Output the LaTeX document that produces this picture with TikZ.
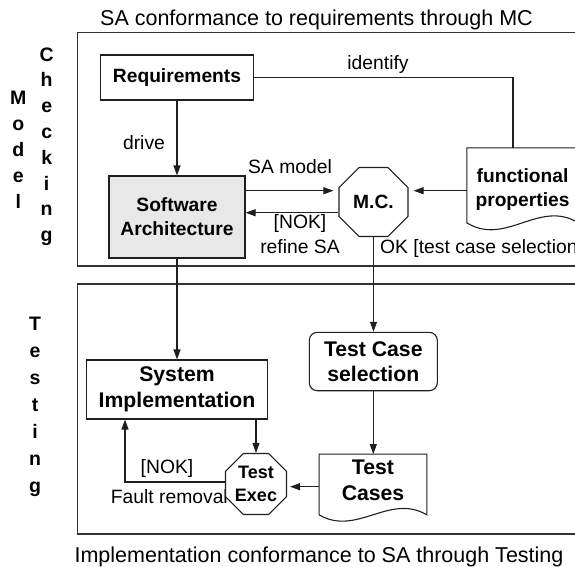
\documentclass[tikz,border=0pt]{standalone}
\usepackage{fontspec}
\setmainfont{Liberation Sans}
\usetikzlibrary{arrows.meta,shapes.geometric,calc}
\begin{document}
\begin{tikzpicture}[x=1pt,y=-1pt,
  ln/.style={draw=black!88,line width=1.1pt},
  arr/.style={ln,-{Triangle[length=10pt,width=7pt]}},
  outerbox/.style={draw=black!80,line width=1.3pt},
  box/.style={ln,inner sep=0pt,align=center},
  oct/.style={ln,regular polygon,regular polygon sides=8,inner sep=0pt,fill=white,align=center},
  lbl/.style={inner sep=0pt,font=\fontsize{19.3}{23}\selectfont},
  bfa/.style={font=\fontsize{19.2}{24}\selectfont\bfseries},
  bfb/.style={font=\fontsize{21.2}{25.5}\selectfont\bfseries},
  side/.style={inner sep=0pt,anchor=base,font=\fontsize{19.5}{20}\selectfont\bfseries},
  captext/.style={inner sep=0pt,anchor=base,font=\fontsize{21.5}{26}\selectfont}
]
\useasboundingbox (0,0) rectangle (575,566);

% outer frames
\draw[outerbox] (77.7,32.7) rectangle (590,266);
\draw[outerbox] (77.7,284) rectangle (590,534);

% captions
\node[captext] (title) at (316.5,25) {SA conformance to requirements through MC};
\node[captext] (caption) at (319,562) {Implementation conformance to SA through Testing};

% side letters
\foreach \c [count=\i from 0] in {M,o,d,e,l}
  \node[side] (mdl\i) at (18.3,{104+26*\i}) {\c};
\foreach \c [count=\i from 0] in {C,h,e,c,k,i,n,g}
  \node[side] (chk\i) at (46.7,{61+25.8*\i}) {\c};
\foreach \c [count=\i from 0] in {T,e,s,t,i,n,g}
  \node[side] (tst\i) at (35,{330+27*\i}) {\c};

% nodes (model checking)
\node[box,bfa,minimum width=152.6pt,minimum height=45pt] (req) at (177,77.5) {Requirements};
\node[box,bfa,fill=gray!18,minimum width=136pt,minimum height=82pt] (sa) at (177,217) {Software\\Architecture};
\node[oct,bfa,minimum size=74.7pt] (mc) at (373.5,202) {M.C.};
\node[inner sep=0pt,align=center,bfa,minimum width=111pt,minimum height=84pt] (fp) at (522.5,190) {functional\\properties};
\draw[ln] (fp.north west) -- (fp.north east) -- ++(0,75)
  .. controls +(-38.9,-24) and +(38.9,24) .. ($(fp.north west)+(0,75)$) -- cycle;

% nodes (testing)
\node[box,bfb,minimum width=180.6pt,minimum height=59pt] (si) at (177,389.5) {System\\Implementation};
\node[box,bfb,rounded corners=8pt,minimum width=128pt,minimum height=58.4pt] (tcs) at (373.3,361.5) {Test Case\\selection};
\node[inner sep=0pt,align=center,bfb,minimum width=107.4pt,minimum height=52.4pt] (tc) at (373,480.5) {Test\\Cases};
\draw[ln] (tc.north west) -- (tc.north east) -- ++(0,60.7)
  .. controls +(-37.6,-22) and +(37.6,22) .. ($(tc.north west)+(0,60.7)$) -- cycle;

% labels
\node[lbl] (lidentify) at (378,65) {identify};
\node[lbl] (ldrive) at (144,143) {drive};
\node[lbl] (lsamodel) at (290,167) {SA model};
\node[lbl] (lnok1) at (300,223.3) {[NOK]};
\node[lbl] (lrefine) at (300,246.7) {refine SA};
\node[lbl,anchor=west] (lok) at (380,248.3) {OK [test case selection]};
\node[lbl] (lnok2) at (167,468) {[NOK]};
\node[lbl,anchor=west] (lfault) at (110.7,497) {Fault removal};

\node[oct,font=\fontsize{18}{23}\selectfont\bfseries,minimum size=66pt] (te) at (256,484) {Test\\Exec};

% connectors
\draw[ln] (req.east) -| ([xshift=-9.5pt]fp.north);
\draw[arr] (req.south) -- (sa.north);
\coordinate (mcA) at ([yshift=11.3pt]mc.west);
\coordinate (mcB) at ([yshift=-10.7pt]mc.west);
\draw[arr] (sa.east |- mcA) -- ([xshift=-5pt]mcA);
\draw[arr] (mcB) -- (sa.east |- mcB);
\draw[arr] (fp.west |- mcA) -- ([xshift=5pt]mc.east |- mcA);
\draw[arr] (sa.south) -- (si.north);
\draw[arr] (mc.south) -- (mc.south |- tcs.north);
\draw[arr] (tcs.south) -- (tcs.south |- tc.north);
\draw[arr] (si.south -| te.north) -- (te.north);
\draw[arr] ([yshift=2pt]te.west) -| ([xshift=-52pt]si.south);
\coordinate (tcA) at ([yshift=-6.2pt]tc.west);
\draw[arr] (tcA) -- ([xshift=3pt]te.east |- tcA);
\end{tikzpicture}
\end{document}
